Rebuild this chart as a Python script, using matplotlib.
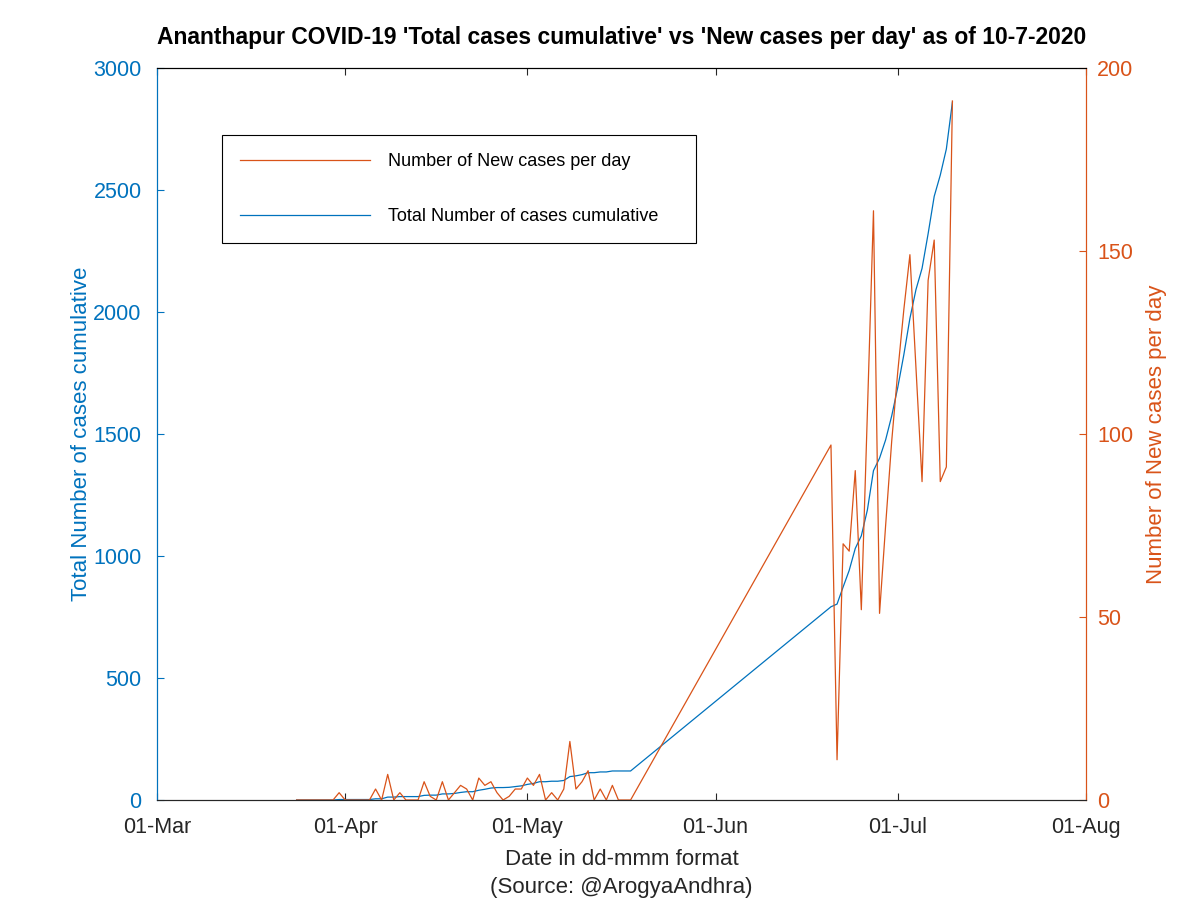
import pandas as pd
import matplotlib
matplotlib.use("Agg")
import matplotlib.pyplot as plt
import matplotlib.dates as mdates

plt.rcParams["font.family"] = ["Liberation Sans", "DejaVu Sans"]

BLUE = "#0072BD"
ORANGE = "#D95319"

# dates with data: 24-Mar .. 18-May, then 20-Jun .. 10-Jul
dates = list(pd.date_range("2020-03-24", "2020-05-18")) + list(pd.date_range("2020-06-20", "2020-07-10"))

new_cases = [
    0, 0, 0, 0, 0, 0, 0, 2, 0, 0, 0, 0, 0, 3, 0, 7, 0, 2, 0, 0,
    0, 5, 1, 0, 5, 0, 2, 4, 3, 0, 6, 4, 5, 2, 0, 1, 3, 3, 6, 4,
    7, 0, 2, 0, 3, 16, 3, 5, 8, 0, 3, 0, 4, 0, 0, 0,
    97, 11, 70, 68, 90, 52, 106, 161, 51, 75, 98, 117, 134, 149, 118, 87, 142, 153, 87, 91, 191,
]

total_cases = [
    0, 0, 0, 0, 0, 0, 0, 2, 2, 2, 2, 2, 2, 5, 5, 12, 12, 14, 14, 14,
    14, 19, 20, 20, 25, 25, 27, 31, 34, 34, 40, 44, 49, 51, 51, 52, 55, 58, 64, 68,
    75, 75, 77, 77, 80, 96, 99, 104, 112, 112, 115, 115, 119, 119, 119, 119,
    792, 803, 873, 941, 1031, 1083, 1189, 1350, 1401, 1476, 1574, 1691, 1825, 1974, 2092, 2179, 2321, 2474, 2561, 2668, 2860,
]

fig = plt.figure(figsize=(12, 9), dpi=100)
ax = fig.add_axes([0.1308, 0.1111, 0.7742, 0.8133])
ax2 = ax.twinx()

l_total, = ax.plot(dates, total_cases, color=BLUE, lw=0.9, label="Total Number of cases cumulative")
l_new, = ax2.plot(dates, new_cases, color=ORANGE, lw=0.9, label="Number of New cases per day")

ax.set_xlim(pd.Timestamp("2020-03-01"), pd.Timestamp("2020-08-01"))
ax.set_ylim(0, 3000)
ax2.set_ylim(0, 200)
ax.set_yticks(range(0, 3001, 500))
ax2.set_yticks(range(0, 201, 50))
ax.xaxis.set_major_locator(mdates.MonthLocator())
ax.xaxis.set_major_formatter(mdates.DateFormatter("%d-%b"))

ax.tick_params(axis="x", direction="in", top=True, length=5, labelsize=15.5, colors="#262626", pad=12)
ax.tick_params(axis="y", direction="in", length=5, labelsize=15.5, colors=BLUE, pad=11)
ax2.tick_params(axis="y", direction="in", length=5, labelsize=15.5, colors=ORANGE, pad=8)

for a in (ax, ax2):
    a.spines["left"].set_color(BLUE)
    a.spines["right"].set_color(ORANGE)
    a.spines["bottom"].set_color("#262626")
    a.spines["top"].set_color("black")
    for s in a.spines.values():
        s.set_linewidth(0.8)

ax.set_ylabel("Total Number of cases cumulative", color=BLUE, fontsize=16, labelpad=1)
ax2.set_ylabel("Number of New cases per day", color=ORANGE, fontsize=16, rotation=90, labelpad=9)
ax.set_xlabel("Date in dd-mmm format\n(Source: @ArogyaAndhra)", fontsize=16, color="#262626",
              labelpad=8, linespacing=1.45)
ax.set_title("Ananthapur COVID-19 'Total cases cumulative' vs 'New cases per day' as of 10-7-2020",
             fontsize=16.5, fontweight="bold", pad=17)

leg = ax2.legend(handles=[l_new, l_total], loc="upper left",
                 bbox_to_anchor=(0.070, 0.9085, 0.510, 0.0), mode="expand",
                 fontsize=13, handlelength=7.2, handletextpad=1.0, labelspacing=2.1,
                 borderpad=1.0, borderaxespad=0, fancybox=False, framealpha=1)
leg.get_frame().set_edgecolor("black")
leg.get_frame().set_linewidth(0.8)

fig.savefig("out.png", dpi=100)
